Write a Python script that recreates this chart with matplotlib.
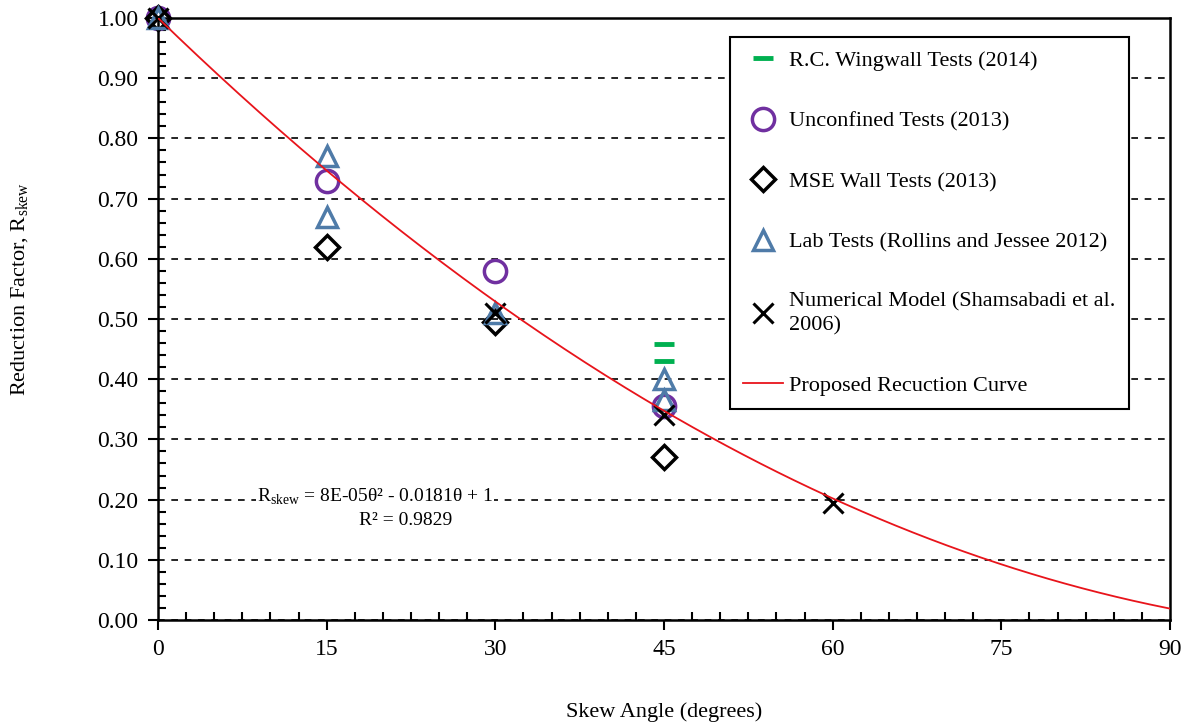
import numpy as np
import matplotlib.pyplot as plt
from matplotlib.ticker import MultipleLocator

plt.rcParams["font.family"] = ["Liberation Serif", "DejaVu Serif"]
plt.rcParams["mathtext.fontset"] = "custom"
plt.rcParams["mathtext.rm"] = "Liberation Serif"

# Test data: skew angle (deg) vs reduction factor
wingwall_x = [45, 45]
wingwall_y = [0.458, 0.430]

unconfined_x = [0, 15, 30, 45]
unconfined_y = [1.00, 0.73, 0.58, 0.355]

mse_x = [0, 15, 30, 45]
mse_y = [1.00, 0.62, 0.495, 0.27]

lab_x = [0, 15, 15, 30, 45, 45]
lab_y = [1.00, 0.77, 0.67, 0.51, 0.40, 0.365]

numerical_x = [0, 30, 45, 60]
numerical_y = [1.00, 0.51, 0.34, 0.195]

# Proposed reduction curve coefficients
coef_a = 8e-05
coef_b = -0.0181
coef_c = 1.0

fig = plt.figure(figsize=(11.9, 7.25), dpi=100)
ax = fig.add_axes([0.1328, 0.1448, 0.8504, 0.8304])

theta = np.linspace(0, 90, 300)
r_curve = coef_a * theta**2 + coef_b * theta + coef_c

ax.plot(wingwall_x, wingwall_y, linestyle="none", marker="_", markersize=15,
        markeredgewidth=3.5, color="#00B050", label="R.C. Wingwall Tests (2014)",
        zorder=4, clip_on=False)
ax.plot(unconfined_x, unconfined_y, linestyle="none", marker="o", markersize=16,
        markerfacecolor="none", markeredgewidth=2.5, markeredgecolor="#7030A0",
        label="Unconfined Tests (2013)", zorder=4, clip_on=False)
ax.plot(mse_x, mse_y, linestyle="none", marker="D", markersize=12,
        markerfacecolor="none", markeredgewidth=2.5, markeredgecolor="black",
        label="MSE Wall Tests (2013)", zorder=4, clip_on=False)
ax.plot(lab_x, lab_y, linestyle="none", marker="^", markersize=15,
        markerfacecolor="none", markeredgewidth=2.5, markeredgecolor="#4F7BA8",
        label="Lab Tests (Rollins and Jessee 2012)", zorder=4, clip_on=False)
ax.plot(numerical_x, numerical_y, linestyle="none", marker="x", markersize=15,
        markeredgewidth=2.2, color="black",
        label="Numerical Model (Shamsabadi et al.\n2006)", zorder=4, clip_on=False)
ax.plot(theta, r_curve, color="#E8141B", linewidth=1.3,
        label="Proposed Recuction Curve", zorder=5)

ax.set_xlim(0, 90)
ax.set_ylim(0, 1.0)
ax.xaxis.set_major_locator(MultipleLocator(15))
ax.xaxis.set_minor_locator(MultipleLocator(2.5))
ax.yaxis.set_major_locator(MultipleLocator(0.1))
ax.yaxis.set_minor_locator(MultipleLocator(0.02))
ax.yaxis.set_major_formatter(plt.FuncFormatter(lambda v, p: f"{v:.2f}"))

ax.tick_params(axis="both", which="major", direction="out", length=7, width=1.5,
               labelsize=17, pad=7)
ax.tick_params(axis="both", which="minor", direction="in", length=6, width=1.5)
ax.tick_params(axis="x", which="both", top=False)
ax.tick_params(axis="y", which="both", right=False)

for spine in ax.spines.values():
    spine.set_linewidth(1.8)

ax.grid(axis="y", which="major", color="black", linestyle=(0, (4, 4)), linewidth=1.2)
ax.set_axisbelow(True)

ax.set_xlabel("Skew Angle (degrees)", fontsize=16)
ax.set_ylabel(r"Reduction Factor, R$_{\mathrm{skew}}$", fontsize=16)
ax.xaxis.set_label_coords(0.5, -0.137)
ax.yaxis.set_label_coords(-0.126, 0.55)

ax.text(19.3, 0.204, r"R$_{\mathrm{skew}}$ = 8E-05θ² - 0.0181θ + 1", fontsize=14,
        ha="center", va="center",
        bbox=dict(facecolor="white", edgecolor="none", pad=1))
ax.text(22.0, 0.166, "R² = 0.9829", fontsize=14, ha="center", va="center")

leg = ax.legend(loc="upper left", bbox_to_anchor=(0.5652, 0.9684), fontsize=16,
                frameon=True, fancybox=False, edgecolor="black", framealpha=1,
                labelspacing=1.8, handlelength=1.8, handletextpad=0.25,
                borderpad=0.6, borderaxespad=0)
leg.get_frame().set_linewidth(1.5)
for txt in leg.get_texts():
    txt.set_linespacing(1.3)

fig.savefig("out.png", dpi=100)
